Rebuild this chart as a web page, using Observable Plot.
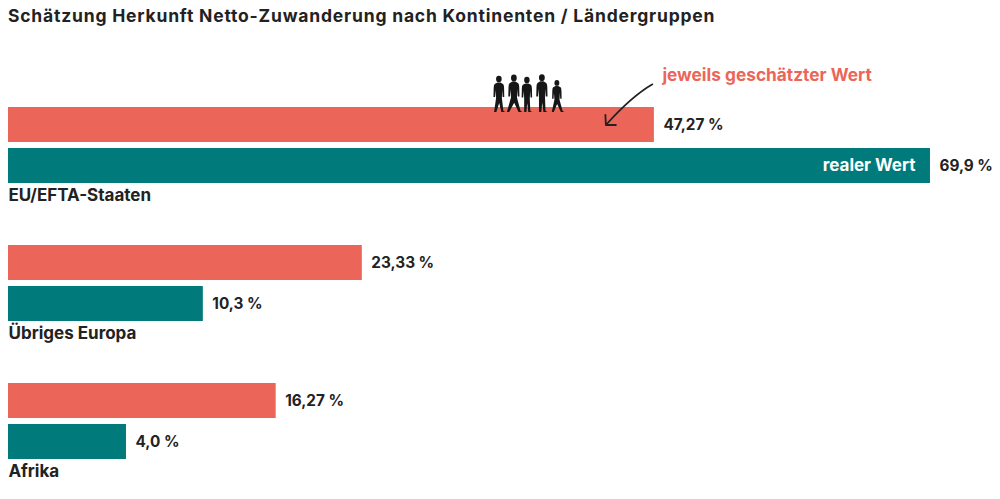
<!DOCTYPE html>
<html><head><meta charset="utf-8">
<script src="https://cdn.jsdelivr.net/npm/d3@7"></script>
<script src="https://cdn.jsdelivr.net/npm/@observablehq/plot@0.6"></script>
<style>
body{margin:0;background:#fff;font-family:Inter, sans-serif;}
#title{height:40px;box-sizing:border-box;padding:6px 0 0 8px;font-size:17.5px;font-weight:700;letter-spacing:0.8px;line-height:20px;color:#222;white-space:nowrap;}
</style></head><body>
<div id="title">Schätzung Herkunft Netto-Zuwanderung nach Kontinenten / Ländergruppen</div>
<div id="chart"></div>
<script>
const categories = ["EU/EFTA-Staaten", "Übriges Europa", "Afrika"];
const estimated = [47.27, 23.33, 16.27];
const real = [69.9, 10.3, 4.0];
const estimatedLabels = ["47,27 %", "23,33 %", "16,27 %"];
const realLabels = ["69,9 %", "10,3 %", "4,0 %"];
const barBase = -5.67;   // bars in the original start left of zero
const RED = "#ec6559", TEAL = "#007a7a", INK = "#222222";

const rows = categories.map((c, i) => ({
  category: c, estimated: estimated[i], real: real[i],
  estLabel: estimatedLabels[i], realLabel: realLabels[i]
}));

// annotation: arrow + walking people silhouettes, positioned via scales
function annotation(index, scales) {
  const x = scales.x, y = scales.y;
  const top = y(categories[0]);
  const xe = x(estimated[0]);
  const g = d3.create("svg:g");
  // curved arrow
  const sx = xe - 1, sy = top - 23, ex = xe - 48, ey = top + 18;
  g.append("path")
    .attr("d", `M${sx},${sy} Q${ex + 26},${sy + 12} ${ex},${ey}`)
    .attr("fill", "none").attr("stroke", INK).attr("stroke-width", 1.8);
  g.append("path")
    .attr("d", `M${ex - 0.5},${ey - 10} L${ex},${ey} L${ex + 10},${ey}`)
    .attr("fill", "none").attr("stroke", INK).attr("stroke-width", 1.8)
    .attr("stroke-linecap", "round").attr("stroke-linejoin", "round");
  // people
  const people = [
    {dx: -155, s: 1.0, l: -4, r: 3},
    {dx: -140, s: 1.03, l: -6, r: 5},
    {dx: -127, s: 0.97, l: -2, r: 2},
    {dx: -112, s: 1.04, l: -2, r: 2},
    {dx: -97, s: 0.88, l: -5, r: 5}
  ];
  for (const p of people) {
    const cx = xe + p.dx, base = top + 5;
    const pg = g.append("g").attr("transform", `translate(${cx},${base}) scale(${p.s})`).attr("fill", "#161616");
    pg.append("ellipse").attr("cx", 0).attr("cy", -33).attr("rx", 2.8).attr("ry", 3.3);
    pg.append("path").attr("d",
      `M-1.5,-29.5 L1.5,-29.5 L4.2,-28 Q5.2,-27 5.2,-24 L5.4,-15 L3.8,-15 L3.4,-22 L3,-14 ` +
      `L${p.r + 1.5},-1 L${p.r + 3.5},0 L${p.r - 0.5},0 L0.3,-9 L${p.l + 1.5},0 L${p.l - 0.8},0 L-2.8,-14 ` +
      `L-3.3,-22 L-3.8,-15 L-5.4,-15 L-5.2,-24 Q-5.2,-27 -4.2,-28 Z`);
  }
  return g.node();
}

const plot = Plot.plot({
  width: 1000, height: 459,
  marginTop: 67, marginBottom: 40, marginLeft: 8, marginRight: 0,
  style: {fontFamily: "Inter, sans-serif", background: "white", overflow: "visible"},
  x: {domain: [barBase, 75.64], axis: null},
  y: {domain: categories, paddingInner: 62 / 138, paddingOuter: 0, axis: null},
  marks: [
    Plot.barX(rows, {y: "category", x1: () => barBase, x2: "estimated", insetBottom: 41, fill: RED}),
    Plot.barX(rows, {y: "category", x1: () => barBase, x2: "real", insetTop: 41, fill: TEAL}),
    Plot.text(rows, {x: "estimated", y: "category", text: "estLabel", dx: 9, dy: -20.5, textAnchor: "start", fontSize: 15.3, fontWeight: 700, fill: INK}),
    Plot.text(rows, {x: "real", y: "category", text: "realLabel", dx: 9, dy: 20.5, textAnchor: "start", fontSize: 15.3, fontWeight: 700, fill: INK}),
    Plot.text(rows, {y: "category", text: "category", frameAnchor: "left", dy: 50, textAnchor: "start", fontSize: 17, fontWeight: 700, fill: INK}),
    Plot.text([rows[0]], {x: "real", y: "category", text: () => "realer Wert", dx: -15, dy: 20.5, textAnchor: "end", fontSize: 17, fontWeight: 700, fill: "white"}),
    Plot.text([rows[0]], {x: "estimated", y: "category", text: () => "jeweils geschätzter Wert", dx: 8, dy: -70, textAnchor: "start", fontSize: 17.3, fontWeight: 700, fill: RED}),
    annotation
  ]
});
document.getElementById("chart").append(plot);
</script>
</body></html>
